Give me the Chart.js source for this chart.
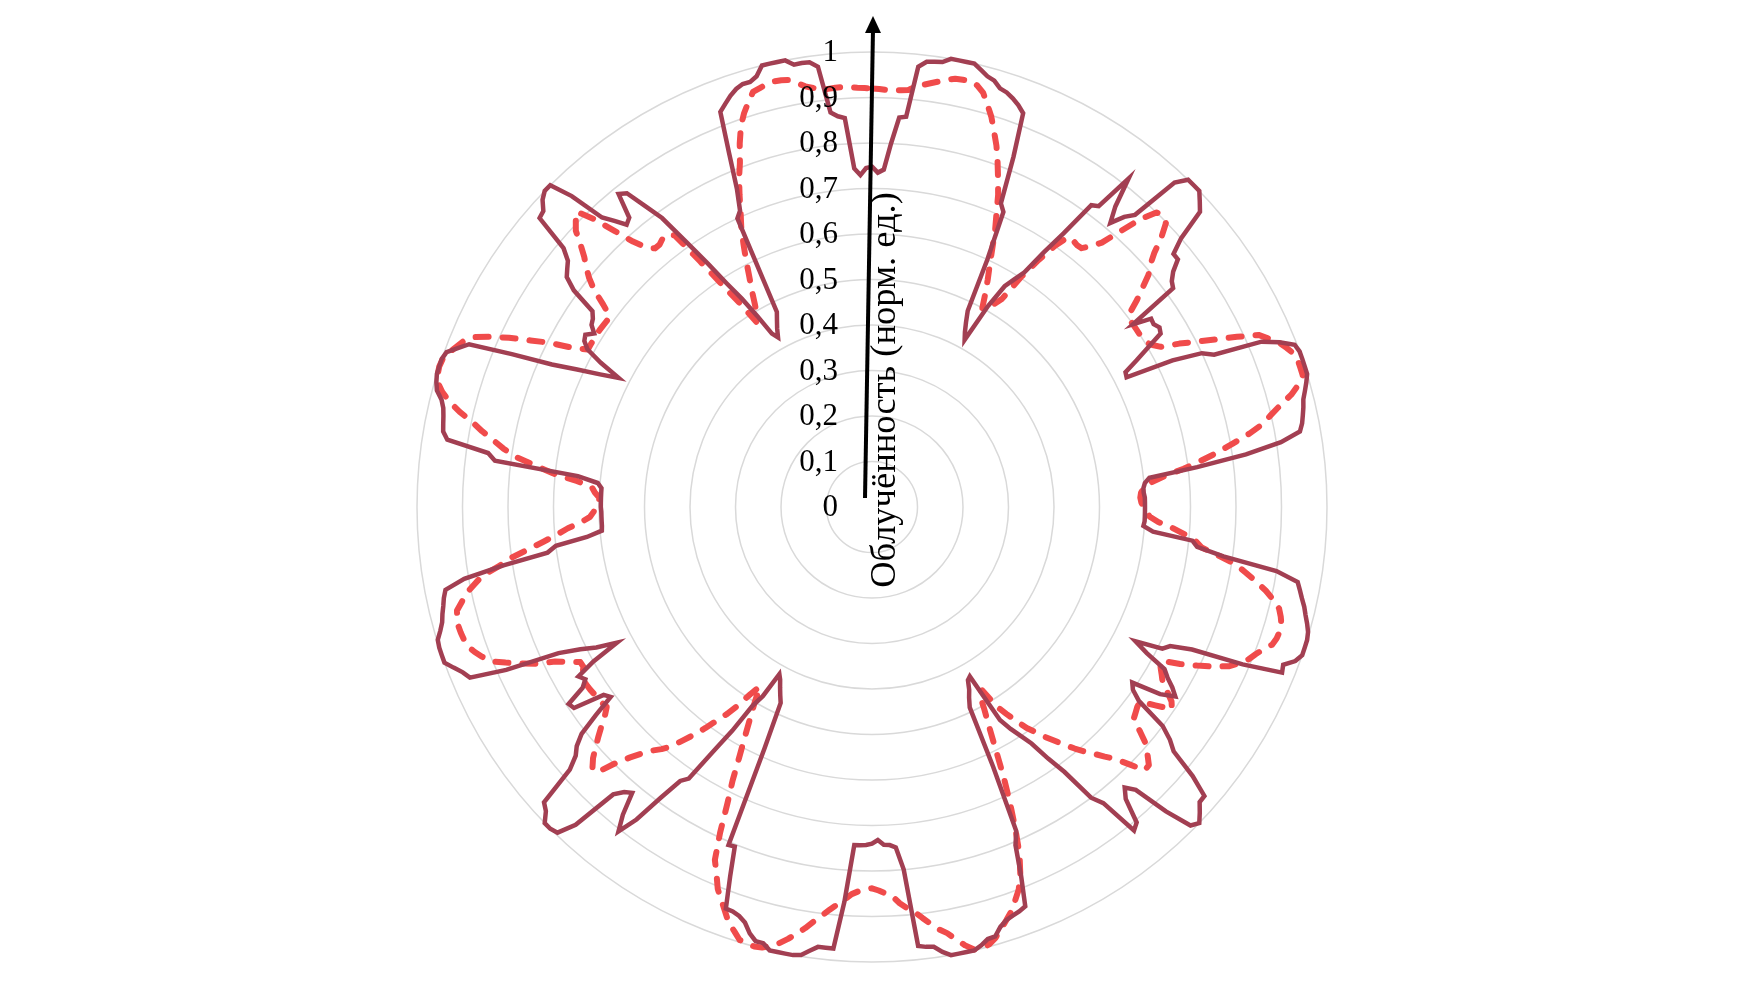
<!DOCTYPE html>
<html>
<head>
<meta charset="utf-8">
<script src="https://cdn.jsdelivr.net/npm/chart.js@4/dist/chart.umd.min.js"></script>
<style>
   html, body { margin: 0; padding: 0; background: #fff; }
   #wrap { width: 1738px; height: 990px; }
</style>
</head>
<body>
<div id="wrap"><canvas id="chart"></canvas></div>
<script>
// углы (градусы, по часовой от верха), шаг 1°
const angles = Array.from({ length: 360 }, (_, i) => i);

// измерение (сплошная линия), 0°..359°
const measured = [
   0.748, 0.735, 0.742, 0.80, 0.858, 0.861, 0.973, 0.986, 0.988, 0.99,
   1.0, 1.0, 1.0, 1.0, 0.99, 0.98, 0.975, 0.962, 0.958, 0.95,
   0.94, 0.927, 0.83, 0.725, 0.71, 0.60, 0.48, 0.455, 0.435, 0.42,
   0.51, 0.566, 0.59, 0.615, 0.675, 0.734, 0.82, 0.828, 0.916, 0.85,
   0.815, 0.845, 0.864, 0.975, 1.0, 1.0, 1.0, 0.985, 0.97, 0.90,
   0.865, 0.865, 0.84, 0.825, 0.818, 0.70, 0.74, 0.738, 0.745, 0.74,
   0.70, 0.665, 0.631, 0.628, 0.735, 0.80, 0.823, 0.93, 0.966, 0.995,
   1.0, 1.0, 1.0, 1.0, 0.993, 0.985, 0.977, 0.973, 0.968, 0.963,
   0.955, 0.91, 0.83, 0.72, 0.613, 0.602, 0.598, 0.598, 0.60, 0.60,
   0.60, 0.60, 0.60, 0.60, 0.598, 0.62, 0.708, 0.72, 0.78, 0.90,
   0.95, 0.958, 0.966, 0.975, 0.982, 0.99, 0.997, 1.0, 1.0, 1.0,
   0.99, 0.968, 0.972, 0.885, 0.77, 0.723, 0.71, 0.65, 0.684, 0.735,
   0.75, 0.77, 0.786, 0.755, 0.69, 0.70, 0.725, 0.80, 0.831, 0.853,
   0.92, 0.968, 0.969, 0.985, 1.0, 0.99, 0.93, 0.85, 0.83, 0.85,
   0.905, 0.915, 0.826, 0.80, 0.72, 0.675, 0.627, 0.60, 0.575, 0.546,
   0.43, 0.435, 0.455, 0.47, 0.49, 0.63, 0.78, 0.807, 0.875, 0.94,
   0.946, 0.95, 0.955, 0.965, 0.982, 0.983, 0.993, 1.0, 1.0, 1.0,
   1.0, 0.99, 0.976, 0.974, 0.97, 0.80, 0.75, 0.744, 0.743, 0.732,
   0.74, 0.743, 0.744, 0.744, 0.87, 0.974, 0.974, 0.974, 0.985, 0.997,
   1.0, 1.0, 1.0, 1.0, 0.988, 0.988, 0.975, 0.955, 0.945, 0.94,
   0.939, 0.87, 0.805, 0.807, 0.58, 0.475, 0.46, 0.445, 0.43, 0.42,
   0.48, 0.51, 0.58, 0.64, 0.72, 0.735, 0.79, 0.86, 0.905, 0.87,
   0.82, 0.83, 0.85, 0.955, 0.995, 1.0, 1.0, 0.98, 0.97, 0.88,
   0.85, 0.835, 0.81, 0.76, 0.71, 0.72, 0.79, 0.795, 0.75, 0.735,
   0.745, 0.70, 0.635, 0.68, 0.713, 0.76, 0.88, 0.96, 0.97, 0.985,
   1.0, 1.0, 1.0, 0.998, 0.987, 0.978, 0.973, 0.967, 0.962, 0.955,
   0.91, 0.82, 0.72, 0.70, 0.63, 0.596, 0.595, 0.595, 0.595, 0.595,
   0.596, 0.596, 0.596, 0.596, 0.596, 0.605, 0.65, 0.835, 0.852, 0.945,
   0.957, 0.96, 0.963, 0.967, 0.975, 0.99, 0.996, 1.0, 1.0, 1.0,
   0.995, 0.975, 0.955, 0.86, 0.77, 0.715, 0.665, 0.625, 0.675, 0.715,
   0.73, 0.735, 0.72, 0.735, 0.74, 0.75, 0.81, 0.84, 0.85, 0.86,
   0.885, 0.968, 0.972, 0.99, 1.0, 1.0, 0.95, 0.87, 0.846, 0.822,
   0.83, 0.885, 0.875, 0.828, 0.785, 0.71, 0.645, 0.585, 0.54, 0.49,
   0.44, 0.426, 0.444, 0.46, 0.477, 0.70, 0.713, 0.76, 0.838, 0.93,
   0.943, 0.956, 0.966, 0.972, 0.972, 0.98, 1.0, 1.0, 1.0, 1.0,
   0.987, 0.988, 0.987, 0.975, 0.872, 0.862, 0.857, 0.745, 0.73, 0.745
];

// расчёт (пунктир), 0°..359°
const simulated = [
   0.92, 0.919, 0.917, 0.917, 0.918, 0.92, 0.93, 0.935, 0.941, 0.947,
   0.953, 0.959, 0.96, 0.961, 0.955, 0.943, 0.92, 0.897, 0.868, 0.84,
   0.807, 0.773, 0.74, 0.70, 0.665, 0.625, 0.59, 0.56, 0.53, 0.50,
   0.50, 0.52, 0.54, 0.605, 0.655, 0.70, 0.733, 0.734, 0.731, 0.732,
   0.748, 0.77, 0.815, 0.865, 0.90, 0.905, 0.898, 0.87, 0.835, 0.81,
   0.793, 0.765, 0.739, 0.71, 0.70, 0.70, 0.70, 0.70, 0.70, 0.703,
   0.712, 0.726, 0.765, 0.80, 0.84, 0.885, 0.93, 0.947, 0.965, 0.976,
   0.986, 0.99, 0.99, 0.99, 0.975, 0.954, 0.925, 0.90, 0.878, 0.845,
   0.806, 0.77, 0.73, 0.69, 0.645, 0.615, 0.598, 0.592, 0.59, 0.592,
   0.596, 0.603, 0.611, 0.63, 0.662, 0.69, 0.715, 0.73, 0.77, 0.81,
   0.835, 0.86, 0.885, 0.905, 0.922, 0.93, 0.936, 0.937, 0.935, 0.93,
   0.915, 0.903, 0.893, 0.878, 0.86, 0.83, 0.795, 0.76, 0.72, 0.725,
   0.735, 0.745, 0.765, 0.785, 0.795, 0.76, 0.728, 0.73, 0.735, 0.74,
   0.77, 0.80, 0.815, 0.832, 0.833, 0.80, 0.77, 0.75, 0.73, 0.712,
   0.693, 0.673, 0.652, 0.633, 0.612, 0.593, 0.567, 0.542, 0.517, 0.47,
   0.47, 0.51, 0.55, 0.60, 0.66, 0.718, 0.775, 0.83, 0.87, 0.90,
   0.92, 0.94, 0.955, 0.97, 0.985, 0.995, 1.0, 0.998, 0.985, 0.968,
   0.951, 0.94, 0.925, 0.91, 0.895, 0.885, 0.873, 0.857, 0.85, 0.843,
   0.838, 0.84, 0.845, 0.852, 0.865, 0.877, 0.89, 0.905, 0.92, 0.937,
   0.952, 0.967, 0.98, 0.99, 0.998, 1.0, 0.998, 0.995, 0.98, 0.967,
   0.945, 0.925, 0.905, 0.875, 0.849, 0.79, 0.725, 0.675, 0.62, 0.575,
   0.535, 0.50, 0.465, 0.49, 0.525, 0.555, 0.58, 0.608, 0.635, 0.66,
   0.687, 0.705, 0.72, 0.74, 0.765, 0.795, 0.84, 0.84, 0.825, 0.805,
   0.785, 0.765, 0.745, 0.73, 0.733, 0.735, 0.736, 0.738, 0.739, 0.74,
   0.735, 0.725, 0.726, 0.75, 0.775, 0.815, 0.845, 0.875, 0.905, 0.918,
   0.93, 0.94, 0.943, 0.945, 0.946, 0.944, 0.94, 0.925, 0.911, 0.89,
   0.87, 0.83, 0.80, 0.76, 0.725, 0.695, 0.67, 0.64, 0.62, 0.612,
   0.605, 0.60, 0.60, 0.61, 0.617, 0.65, 0.704, 0.745, 0.79, 0.82,
   0.845, 0.873, 0.898, 0.93, 0.957, 0.978, 0.993, 0.998, 1.0, 0.998,
   0.99, 0.98, 0.97, 0.955, 0.92, 0.88, 0.835, 0.795, 0.745, 0.714,
   0.714, 0.714, 0.714, 0.714, 0.713, 0.712, 0.712, 0.74, 0.775, 0.80,
   0.82, 0.838, 0.862, 0.89, 0.905, 0.918, 0.88, 0.83, 0.785, 0.755,
   0.742, 0.742, 0.748, 0.75, 0.738, 0.66, 0.59, 0.535, 0.48, 0.49,
   0.515, 0.545, 0.575, 0.61, 0.645, 0.68, 0.71, 0.745, 0.78, 0.81,
   0.85, 0.885, 0.91, 0.93, 0.949, 0.953, 0.958, 0.96, 0.959, 0.956,
   0.946, 0.936, 0.93, 0.924, 0.924, 0.925, 0.925, 0.924, 0.922, 0.921
];

const tickValues = [0, 0.1, 0.2, 0.3, 0.4, 0.5, 0.6, 0.7, 0.8, 0.9, 1];
const tickLabels = ['0', '0,1', '0,2', '0,3', '0,4', '0,5', '0,6', '0,7', '0,8', '0,9', '1'];
const axisTitle = 'Облучённость (норм. ед.)';

const serif = '"Liberation Serif", "Times New Roman", serif';

// подписи шкалы, стрелка и название оси
const axisOverlay = {
   id: 'axisOverlay',
   afterDatasetsDraw(chart) {
      const ctx = chart.ctx;
      const r = chart.scales.r;
      const cx = r.xCenter, cy = r.yCenter;
      ctx.save();
      ctx.fillStyle = '#000';
      ctx.font = '31px ' + serif;
      ctx.textAlign = 'right';
      ctx.textBaseline = 'middle';
      tickValues.forEach((v, i) => {
         ctx.fillText(tickLabels[i], cx - 34, cy - r.getDistanceFromCenterForValue(v) + 1);
      });

      // стрелка
      ctx.strokeStyle = '#000';
      ctx.lineWidth = 4;
      ctx.beginPath();
      ctx.moveTo(cx - 7, cy - 9);
      ctx.lineTo(cx + 1, cy - 478);
      ctx.stroke();
      ctx.beginPath();
      ctx.moveTo(cx + 1, cy - 491);
      ctx.lineTo(cx - 7, cy - 474);
      ctx.lineTo(cx + 9, cy - 474);
      ctx.closePath();
      ctx.fill();

      // название оси
      ctx.translate(cx + 23, cy - 117);
      ctx.rotate(-Math.PI / 2);
      ctx.font = '36.5px ' + serif;
      ctx.textAlign = 'center';
      ctx.textBaseline = 'alphabetic';
      ctx.fillText(axisTitle, 0, 0);
      ctx.restore();
   }
};

new Chart(document.getElementById('chart'), {
   type: 'radar',
   data: {
      labels: angles,
      datasets: [
         {
            label: 'Измерение',
            data: measured,
            borderColor: '#a23f52',
            borderWidth: 4.5,
            fill: false,
            tension: 0,
            borderJoinStyle: 'miter'
         },
         {
            label: 'Расчёт',
            data: simulated,
            borderColor: '#f04b4b',
            borderWidth: 6,
            borderDash: [13, 14],
            borderCapStyle: 'round',
            borderJoinStyle: 'round',
            fill: false,
            tension: 0
         }
      ]
   },
   options: {
      responsive: true,
      maintainAspectRatio: false,
      animation: false,
      layout: { padding: { top: 52, bottom: 28, left: 6, right: 0 } },
      elements: { point: { radius: 0, hoverRadius: 0 } },
      plugins: { legend: { display: false }, tooltip: { enabled: false } },
      scales: {
         r: {
            min: 0,
            max: 1,
            ticks: { stepSize: 0.1, display: false },
            grid: { circular: true, color: '#d9d9d9', lineWidth: 1.5 },
            angleLines: { display: false },
            pointLabels: { display: false }
         }
      }
   },
   plugins: [axisOverlay]
});
</script>
</body>
</html>
